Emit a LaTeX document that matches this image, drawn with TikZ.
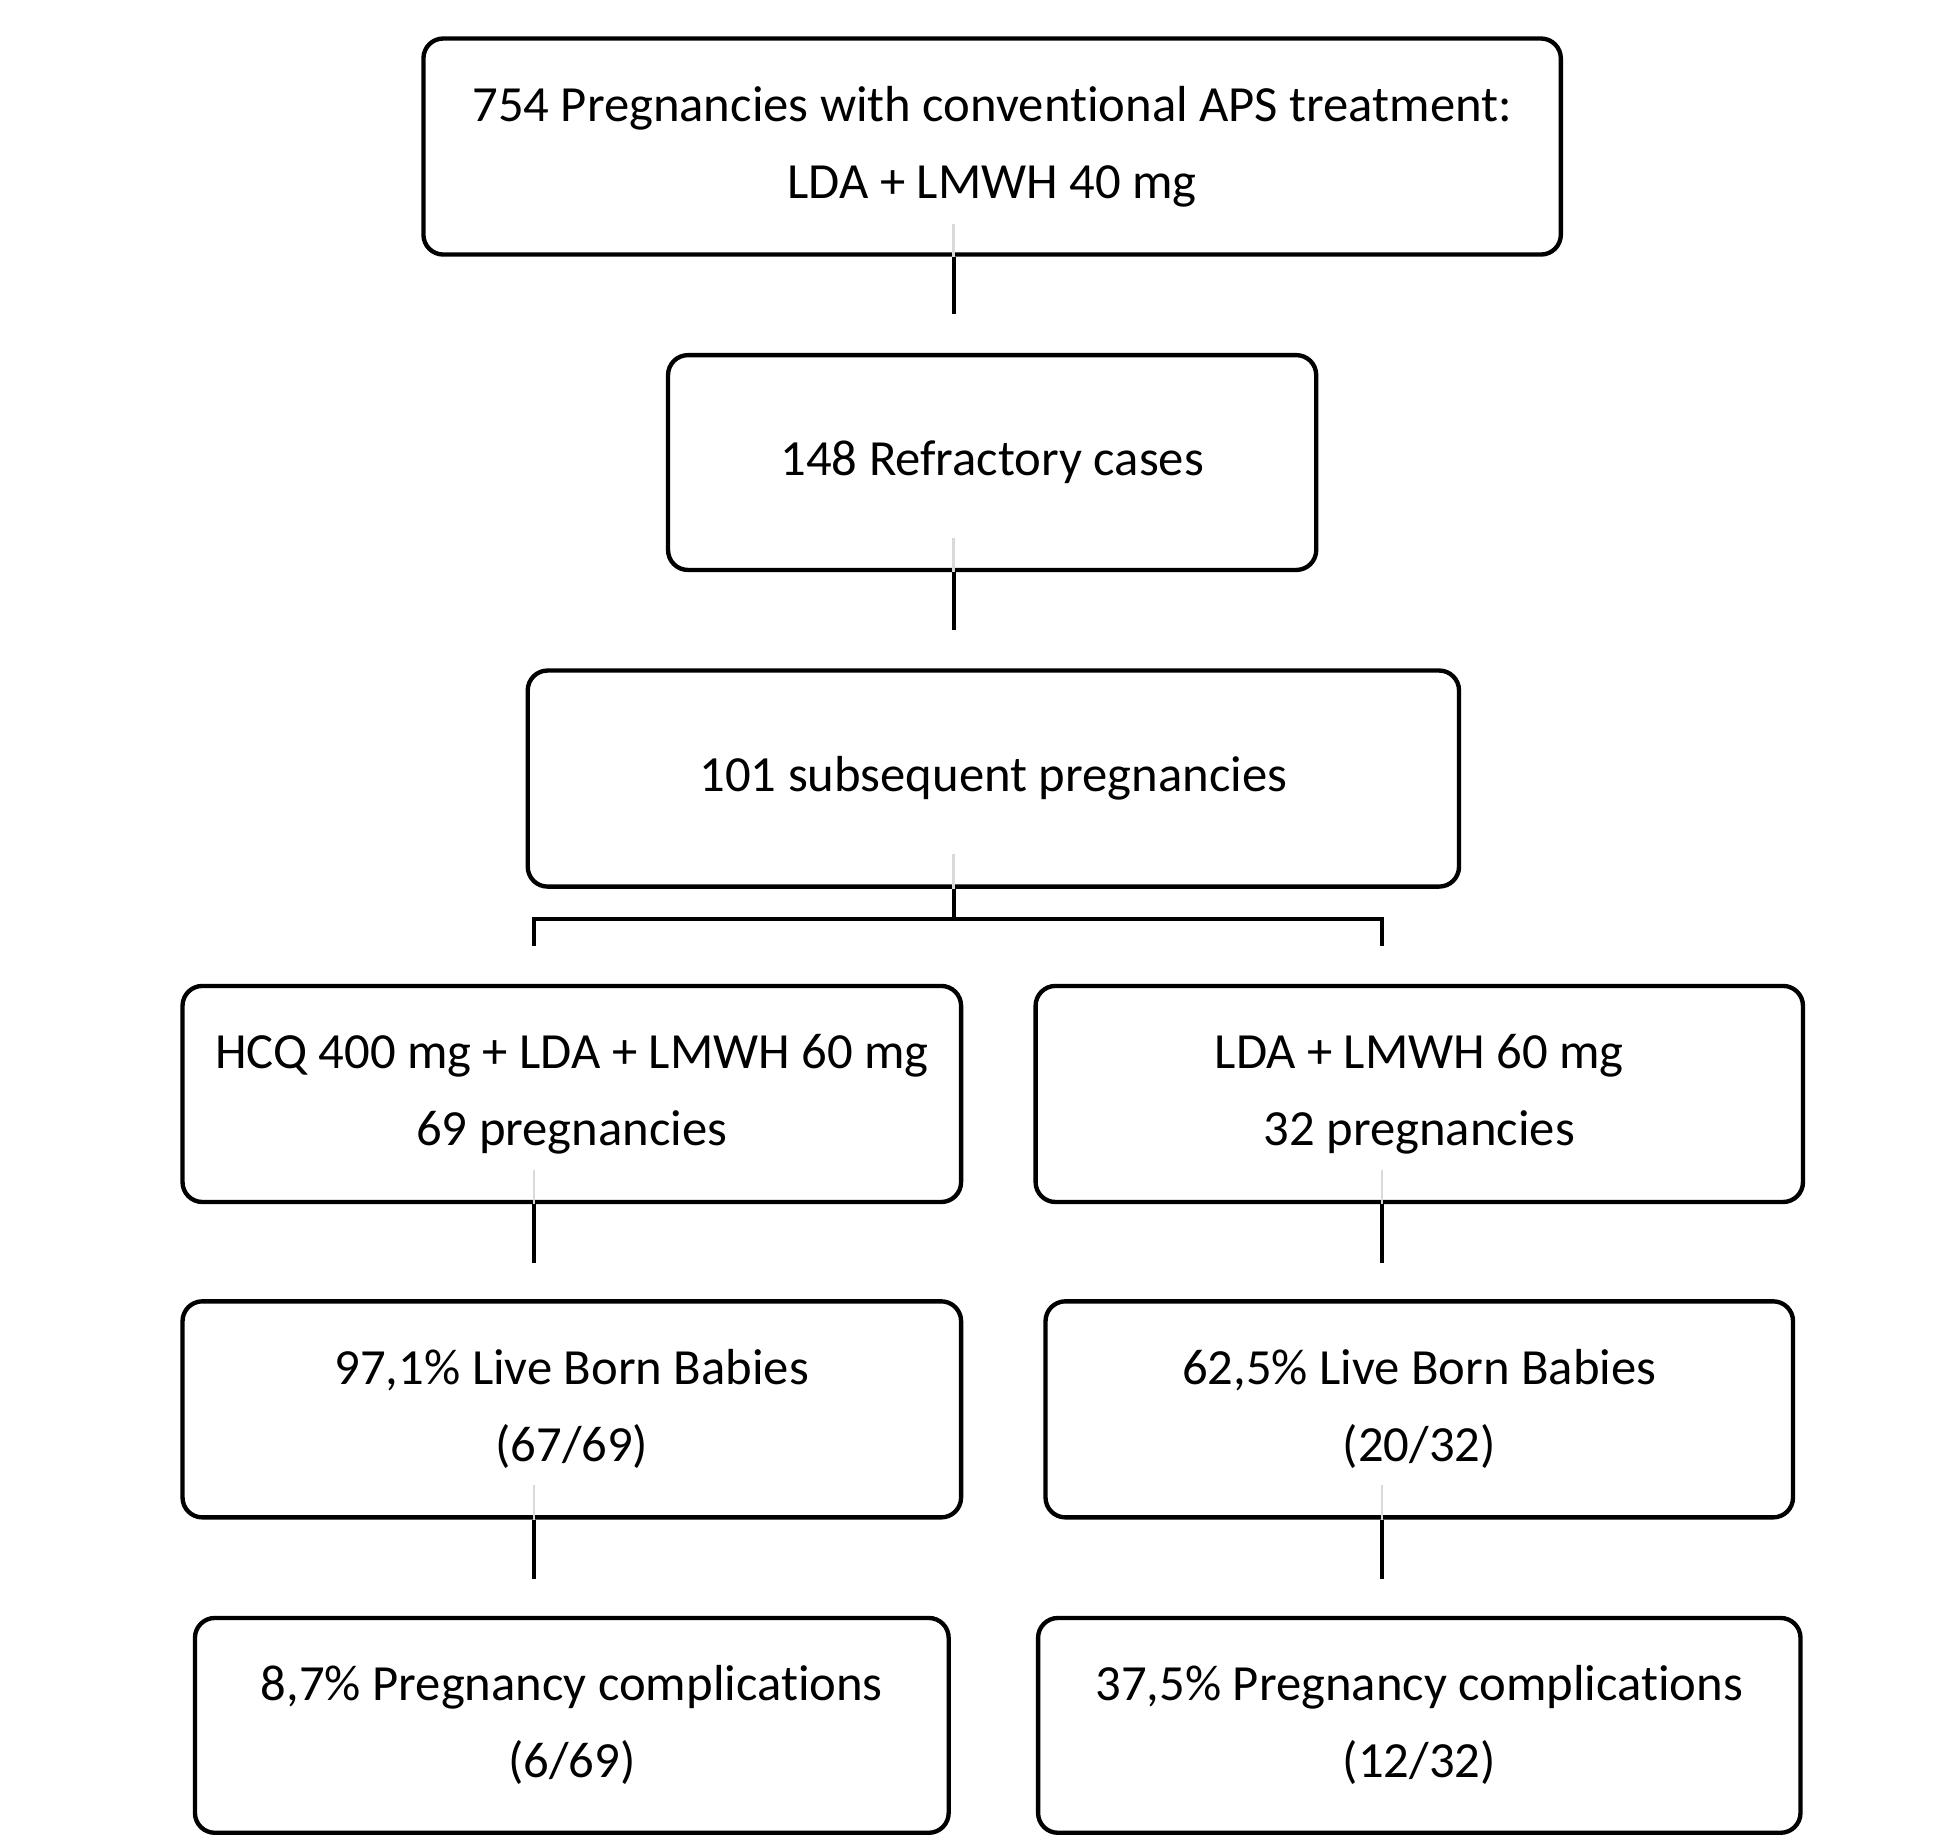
\documentclass[tikz,border=0pt]{standalone}
\usepackage{fontspec}
\setmainfont{Carlito}[Ligatures=NoCommon]
\begin{document}
\begin{tikzpicture}[x=1pt,y=-1pt,
  box/.style={draw=black, line width=3.5pt, rounded corners=16pt, fill=white,
    align=center, inner sep=0pt, font=\fontsize{40.8}{62}\selectfont},
  conn/.style={line width=3pt, draw=black},
  ghost/.style={line width=2pt, draw=black!15}]
\useasboundingbox (0,0) rectangle (1568,1478.6);
\node[box, minimum width=916pt, minimum height=174pt] (b1) at (799,118) {754 Pregnancies with conventional APS treatment:\\LDA + LMWH 40 mg};
\node[box, minimum width=522pt, minimum height=173pt] (b2) at (799,372.5) {148 Refractory cases};
\node[box, minimum width=750pt, minimum height=174pt] (b3) at (800,627) {101 subsequent pregnancies};
\node[box, minimum width=627pt, minimum height=174pt] (b4l) at (460.5,881) {HCQ 400 mg + LDA + LMWH 60 mg\\69 pregnancies};
\node[box, minimum width=618pt, minimum height=174pt] (b4r) at (1143,881) {LDA + LMWH 60 mg\\32 pregnancies};
\node[box, minimum width=627pt, minimum height=174pt] (b5l) at (460.5,1135) {97,1\% Live Born Babies\\(67/69)};
\node[box, minimum width=602pt, minimum height=174pt] (b5r) at (1143,1135) {62,5\% Live Born Babies\\(20/32)};
\node[box, minimum width=607pt, minimum height=173pt] (b6l) at (460.5,1389.5) {8,7\% Pregnancy complications\\(6/69)};
\node[box, minimum width=614pt, minimum height=173pt] (b6r) at (1143,1389.5) {37,5\% Pregnancy complications\\(12/32)};
% free ends
\coordinate (e1) at (768,253);
\coordinate (e2) at (768,507);
\coordinate (f) at (768,740);
\coordinate (fl) at (430,740);
\coordinate (fr) at (1113,740);
\coordinate (fld) at (430,762);
\coordinate (frd) at (1113,762);
\coordinate (e4l) at (430,1017);
\coordinate (e4r) at (1113,1017);
\coordinate (e5l) at (430,1272);
\coordinate (e5r) at (1113,1272);
% faint traces inside boxes
\draw[ghost] (768,180) -- (b1.south -| e1);
\draw[ghost] (768,433) -- (b2.south -| e2);
\draw[ghost] (768,688) -- (b3.south -| f);
\draw[ghost] (430,942) -- (b4l.south -| e4l);
\draw[ghost] (1113,942) -- (b4r.south -| e4r);
\draw[ghost] (430,1196) -- (b5l.south -| e5l);
\draw[ghost] (1113,1196) -- (b5r.south -| e5r);
% connectors
\draw[conn] (b1.south -| e1) -- (e1);
\draw[conn] (b2.south -| e2) -- (e2);
\draw[conn] (b3.south -| f) -- (f);
\draw[conn] (fld) -- (fl) -- (fr) -- (frd);
\draw[conn] (b4l.south -| e4l) -- (e4l);
\draw[conn] (b4r.south -| e4r) -- (e4r);
\draw[conn] (b5l.south -| e5l) -- (e5l);
\draw[conn] (b5r.south -| e5r) -- (e5r);
\end{tikzpicture}
\end{document}
